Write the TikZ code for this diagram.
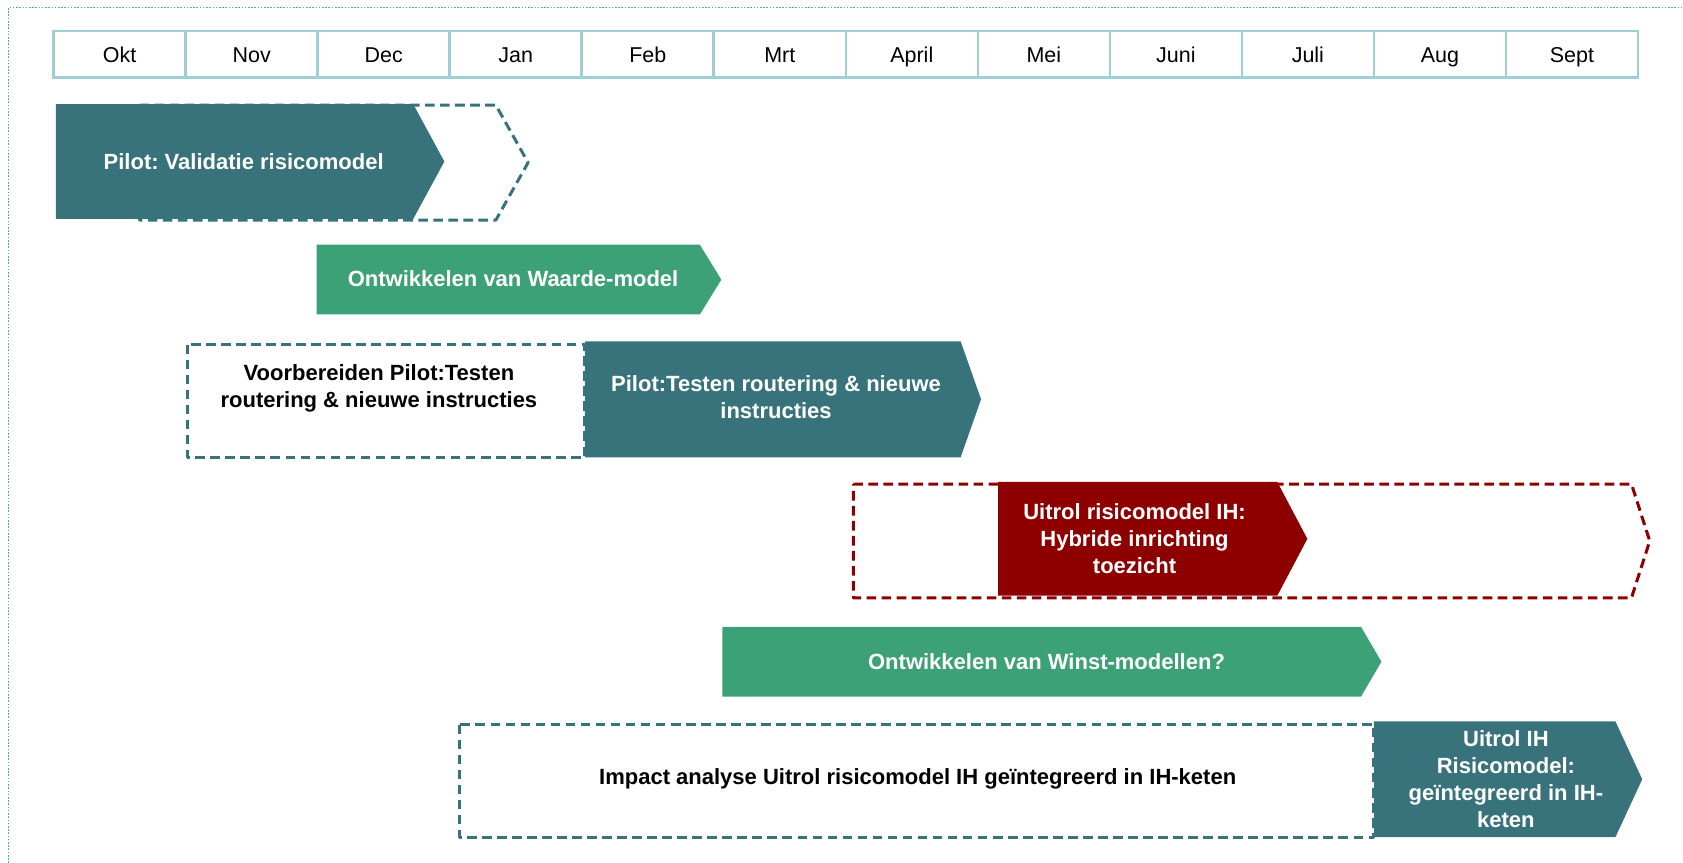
\documentclass[tikz,border=0pt]{standalone}
\usepackage{fontspec}
\setmainfont{Liberation Sans}
\frenchspacing
\definecolor{teal1}{RGB}{56,115,124}
\definecolor{green1}{RGB}{60,161,118}
\definecolor{red1}{RGB}{142,0,0}
\definecolor{hdrline}{RGB}{158,206,214}
\definecolor{dotline}{RGB}{80,172,188}
\newcommand\chev[6]{\path[#1] (#2,#3) -- (#4,#3) -- (#5,{(#3+#6)/2}) -- (#4,#6) -- (#2,#6) -- cycle;}
\begin{document}
\begin{tikzpicture}[x=1pt,y=-1pt,
  hdr/.style={draw=hdrline,line width=2.4pt},
  month/.style={font=\fontsize{20}{24}\selectfont,text=black,anchor=base,inner sep=0pt},
  tealfill/.style={fill=teal1},
  greenfill/.style={fill=green1},
  redfill/.style={fill=red1},
  tealdash/.style={draw=teal1,line width=2.8pt,dash pattern=on 9pt off 5pt,line join=round},
  reddash/.style={draw=red1,line width=2.8pt,dash pattern=on 9pt off 5pt,line join=round},
  wlabel/.style={font=\fontsize{20.5}{25}\selectfont\bfseries,text=white,align=center,inner sep=0pt},
  blabel/.style={font=\fontsize{20.5}{25}\selectfont\bfseries,text=black,align=center,inner sep=0pt}]
\useasboundingbox (0,0) rectangle (1568,804);
% dotted frame
\draw[dotline,line width=1.2pt,dash pattern=on 1.5pt off 1.5pt] (8,804) -- (8,7) -- (1568,7);
% month header
\foreach \m [count=\i from 0] in {Okt,Nov,Dec,Jan,Feb,Mrt,April,Mei,Juni,Juli,Aug,Sept}{
  \draw[hdr] ({50+123*\i},29) rectangle ({50+123*(\i+1)},72);
  \node[month] (m\i) at ({50+123*(\i+0.5)},58) {\m};
}
% bar 1
\chev{tealdash}{130}{98}{462}{492}{205}
\chev{tealfill}{52}{97}{385}{414}{204}
\node[wlabel] (t1) at (227,151) {Pilot: Validatie risicomodel};
% bar 2
\chev{greenfill}{295}{228}{652}{672}{293}
\node[wlabel] (t2) at (478,260) {Ontwikkelen van Waarde-model};
% bar 3
\draw[tealdash] (175,321) rectangle (545,426);
\chev{tealfill}{545}{318}{895}{914}{426}
\node[blabel] (t3a) at (353,362) {Voorbereiden Pilot:Testen\\routering \& nieuwe instructies};
\node[wlabel] (t3b) at (723,370) {Pilot:Testen routering \& nieuwe\\instructies};
% bar 4
\chev{reddash}{795}{451}{1520}{1537}{557}
\chev{redfill}{930}{449}{1190}{1218}{555}
\node[wlabel] (t4) at (1057,502) {Uitrol risicomodel IH:\\Hybride inrichting\\toezicht};
% bar 5
\chev{greenfill}{673}{584}{1268}{1287}{649}
\node[wlabel] (t5) at (975,616) {Ontwikkelen van Winst-modellen?};
% bar 6
\draw[tealdash] (428,675) rectangle (1280,780);
\chev{tealfill}{1280}{672}{1505}{1530}{780}
\node[blabel] (t6a) at (855,726) {Impact analyse Uitrol risicomodel IH geïntegreerd in IH-keten};
\node[wlabel] (t6b) at (1403,726) {Uitrol IH\\Risicomodel:\\geïntegreerd in IH-\\keten};
\end{tikzpicture}
\end{document}
